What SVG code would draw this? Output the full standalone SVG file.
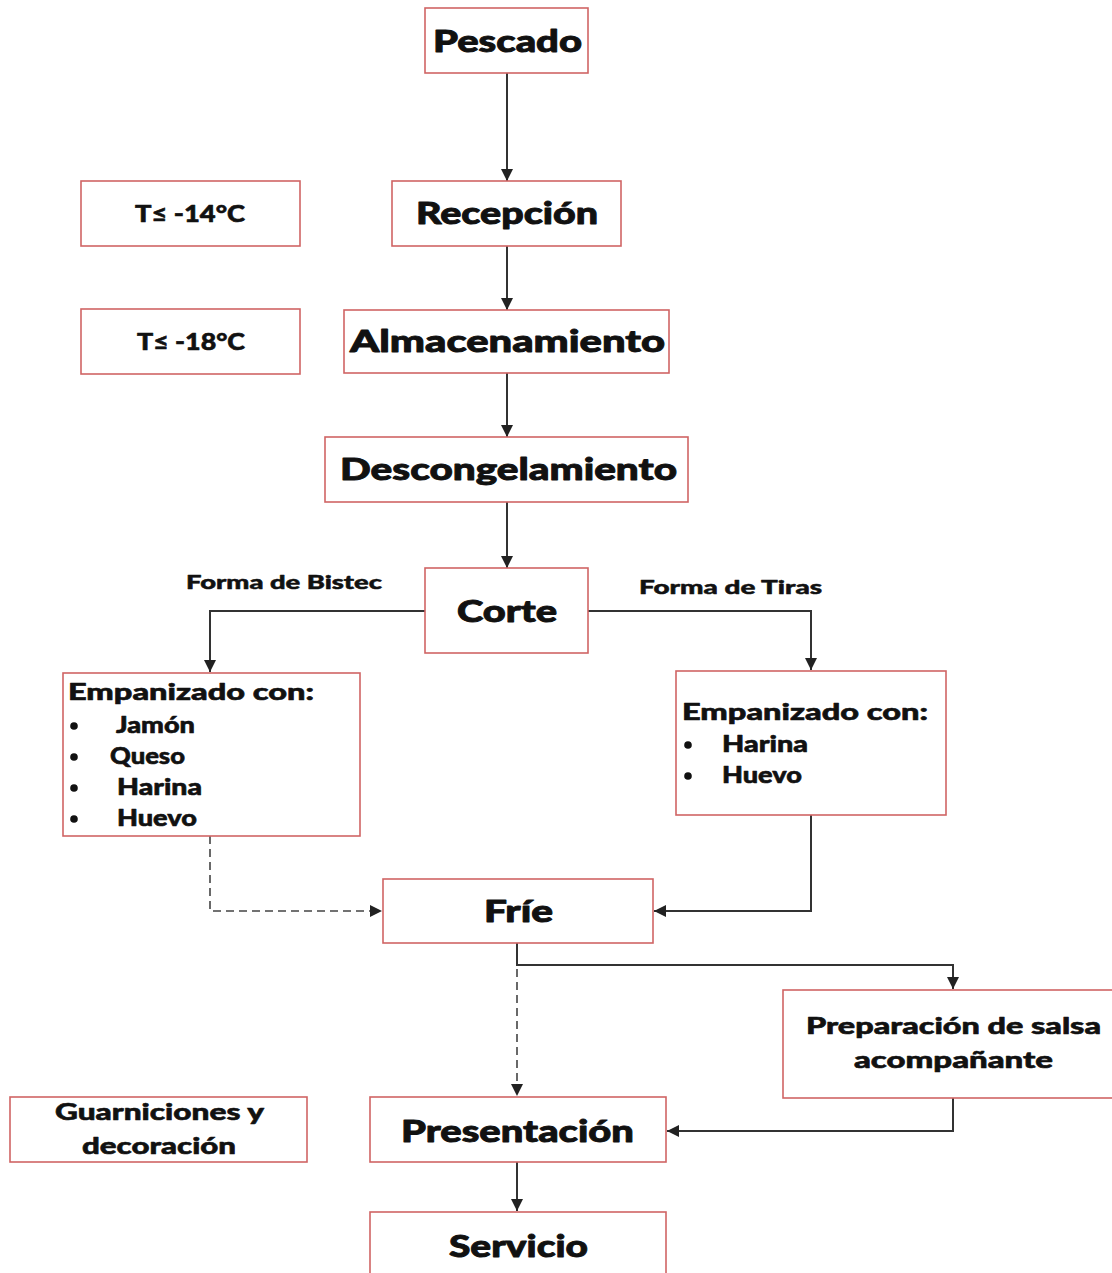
<svg xmlns="http://www.w3.org/2000/svg" width="1112" height="1273" viewBox="0 0 1112 1273">
<style>
.box{fill:#fff;stroke:#d06464;stroke-width:1.6}
.t{font-family:Lato,"Open Sans","DejaVu Sans",sans-serif;font-weight:900;fill:#111;stroke:#111;stroke-linejoin:round}
.big{font-size:31px;stroke-width:0.9}
.mid{font-size:23px;stroke-width:0.6}
.sm{font-size:19px;stroke-width:0.5}
.c{stroke:#333;stroke-width:2;fill:none}
.d{stroke:#444;stroke-width:1.6;fill:none;stroke-dasharray:8 5}
</style>
<defs>
<marker id="ahb" viewBox="0 0 10 10" refX="10" refY="5" markerWidth="12" markerHeight="12" orient="auto" markerUnits="userSpaceOnUse"><path d="M0,0 L10,5 L0,10 z" fill="#222"/></marker>
</defs>
<rect width="1112" height="1273" fill="#fff"/>
<g id="connectors">
<path class="c" d="M507,73 V181" marker-end="url(#ahb)"/>
<path class="c" d="M507,246 V310" marker-end="url(#ahb)"/>
<path class="c" d="M507,373 V437" marker-end="url(#ahb)"/>
<path class="c" d="M507,502 V568" marker-end="url(#ahb)"/>
<path class="c" d="M425,611 H210 V672" marker-end="url(#ahb)"/>
<path class="c" d="M588,611 H811 V670" marker-end="url(#ahb)"/>
<path class="d" d="M210,836 V911 H382" marker-end="url(#ahb)"/>
<path class="c" d="M811,815 V911 H654" marker-end="url(#ahb)"/>
<path class="d" d="M517,943 V1096" marker-end="url(#ahb)"/>
<path class="c" d="M517,943 V965 H953 V989" marker-end="url(#ahb)"/>
<path class="c" d="M953,1098 V1131 H667" marker-end="url(#ahb)"/>
<path class="c" d="M517,1162 V1211" marker-end="url(#ahb)"/>
</g>
<g id="pescado"><rect class="box" x="425" y="8" width="163" height="65"/><text class="t big" x="507.5" y="52" text-anchor="middle" textLength="149" lengthAdjust="spacingAndGlyphs">Pescado</text></g>
<g id="recepcion"><rect class="box" x="392" y="181" width="229" height="65"/><text class="t big" x="507" y="224" text-anchor="middle" textLength="182" lengthAdjust="spacingAndGlyphs">Recepción</text></g>
<g id="t14"><rect class="box" x="81" y="181" width="219" height="65"/><text class="t mid" x="190" y="222" text-anchor="middle" textLength="110" lengthAdjust="spacingAndGlyphs">T≤ -14°C</text></g>
<g id="almacenamiento"><rect class="box" x="344" y="310" width="325" height="63"/><text class="t big" x="507.5" y="352" text-anchor="middle" textLength="315" lengthAdjust="spacingAndGlyphs">Almacenamiento</text></g>
<g id="t18"><rect class="box" x="81" y="309" width="219" height="65"/><text class="t mid" x="191" y="350" text-anchor="middle" textLength="108" lengthAdjust="spacingAndGlyphs">T≤ -18°C</text></g>
<g id="descongelamiento"><rect class="box" x="325" y="437" width="363" height="65"/><text class="t big" x="508.5" y="480" text-anchor="middle" textLength="337" lengthAdjust="spacingAndGlyphs">Descongelamiento</text></g>
<g id="corte"><rect class="box" x="425" y="568" width="163" height="85"/><text class="t big" x="507" y="622" text-anchor="middle" textLength="100" lengthAdjust="spacingAndGlyphs">Corte</text></g>
<g id="labels">
<text class="t sm" x="284" y="589" text-anchor="middle" textLength="196" lengthAdjust="spacingAndGlyphs">Forma de Bistec</text>
<text class="t sm" x="730.5" y="594" text-anchor="middle" textLength="183" lengthAdjust="spacingAndGlyphs">Forma de Tiras</text>
</g>
<g id="empanizado-bistec"><rect class="box" x="63" y="673" width="297" height="163"/>
<text class="t mid" x="68" y="700" textLength="246" lengthAdjust="spacingAndGlyphs">Empanizado con:</text>
<circle cx="74" cy="726" r="3.8" fill="#111"/><text class="t mid" x="116" y="733" textLength="79" lengthAdjust="spacingAndGlyphs">Jamón</text>
<circle cx="74" cy="757" r="3.8" fill="#111"/><text class="t mid" x="110" y="764" textLength="75" lengthAdjust="spacingAndGlyphs">Queso</text>
<circle cx="74" cy="788" r="3.8" fill="#111"/><text class="t mid" x="117" y="795" textLength="85" lengthAdjust="spacingAndGlyphs">Harina</text>
<circle cx="74" cy="819" r="3.8" fill="#111"/><text class="t mid" x="117" y="826" textLength="80" lengthAdjust="spacingAndGlyphs">Huevo</text>
</g>
<g id="empanizado-tiras"><rect class="box" x="676" y="671" width="270" height="144"/>
<text class="t mid" x="682" y="720" textLength="246" lengthAdjust="spacingAndGlyphs">Empanizado con:</text>
<circle cx="688" cy="745" r="3.8" fill="#111"/><text class="t mid" x="722" y="752" textLength="86" lengthAdjust="spacingAndGlyphs">Harina</text>
<circle cx="688" cy="776" r="3.8" fill="#111"/><text class="t mid" x="722" y="783" textLength="80" lengthAdjust="spacingAndGlyphs">Huevo</text>
</g>
<g id="frie"><rect class="box" x="383" y="879" width="270" height="64"/><text class="t big" x="518.5" y="922" text-anchor="middle" textLength="69" lengthAdjust="spacingAndGlyphs">Fríe</text></g>
<g id="salsa"><rect class="box" x="783" y="990" width="340" height="108"/>
<text class="t mid" x="953.5" y="1034" text-anchor="middle" textLength="295" lengthAdjust="spacingAndGlyphs">Preparación de salsa</text>
<text class="t mid" x="953.5" y="1068" text-anchor="middle" textLength="199" lengthAdjust="spacingAndGlyphs">acompañante</text>
</g>
<g id="guarniciones"><rect class="box" x="10" y="1097" width="297" height="65"/>
<text class="t mid" x="159.5" y="1120" text-anchor="middle" textLength="209" lengthAdjust="spacingAndGlyphs">Guarniciones y</text>
<text class="t mid" x="159" y="1154" text-anchor="middle" textLength="154" lengthAdjust="spacingAndGlyphs">decoración</text>
</g>
<g id="presentacion"><rect class="box" x="370" y="1097" width="296" height="65"/><text class="t big" x="517.5" y="1142" text-anchor="middle" textLength="233" lengthAdjust="spacingAndGlyphs">Presentación</text></g>
<g id="servicio"><rect class="box" x="370" y="1212" width="296" height="80"/><text class="t big" x="518.5" y="1257" text-anchor="middle" textLength="139" lengthAdjust="spacingAndGlyphs">Servicio</text></g>
</svg>
